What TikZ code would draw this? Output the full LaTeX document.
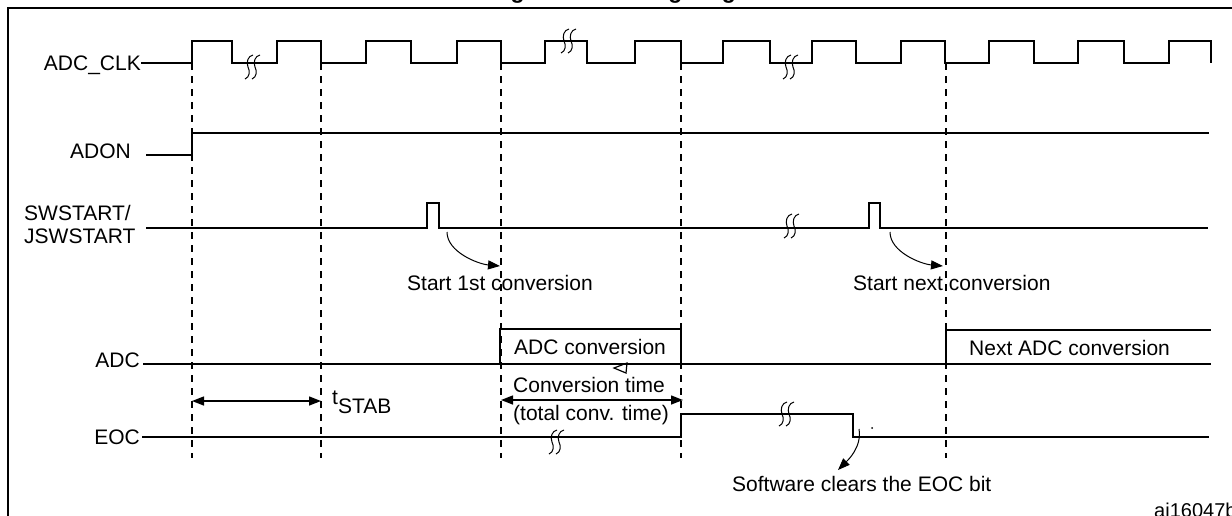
\documentclass[tikz,border=0pt]{standalone}
\usepackage{fontspec}
\setmainfont{Liberation Sans}
\usetikzlibrary{arrows.meta}
\newcommand{\sigfont}{\fontsize{21}{25}\selectfont}

\begin{document}
\begin{tikzpicture}[x=1pt,y=-1pt,>={Triangle[length=12pt,width=9pt]},
    sig/.style={black,line width=1.8pt},
    guide/.style={black,line width=1.4pt,dash pattern=on 7pt off 6pt},
    lbl/.style={font=\sigfont,inner sep=0pt,text height=15pt,text depth=0pt},
    brk/.style={black,line width=1pt}]
\useasboundingbox (0,0) rectangle (1232,515);
%Title, cut by the top of the picture
    \node[font=\bfseries\fontsize{23}{27}\selectfont,anchor=base west,inner sep=0pt] (title) at (490,-2) {Figure 39. Timing diagram};
    \draw[line width=1.4pt] (8,530) -- (8,8) -- (1245,8);

%Signal names
    \node[lbl,anchor=east] (clk) at (141,63) {ADC\_CLK};
    \node[lbl,anchor=east] (adon) at (131,151) {ADON};
    \node[lbl,anchor=west] (sw) at (24,213) {SWSTART/};
    \node[lbl,anchor=west] (jsw) at (24,236) {JSWSTART};
    \node[lbl,anchor=east] (adc) at (140,360) {ADC};
    \node[lbl,anchor=east] (eoc) at (140,437) {EOC};

%Clock, one rising and one falling edge per pair
    \draw[sig] (clk.east) foreach \r/\f in {192/232,277/321,366/411,457/501,545/587,635/681,723/770,812/856,901/945,989/1034,1078/1124,1169/1211}
        { -- (\r,63) -- (\r,41) -- (\f,41) -- (\f,63) };
    \draw[sig] (146,155) -- (192,155) -- (192,133) -- (1209,133);
    \draw[sig] (146,228) -- (427,228) -- (427,203) -- (439,203) -- (439,228)
        -- (869,228) -- (869,203) -- (880,203) -- (880,228) -- (1208,228);
    \draw[sig] (143,364) -- (1211,364);
    \draw[sig] (500,364) -- (500,329) -- (681,329) -- (681,364);
    \draw[sig] (946,364) -- (946,330) -- (1211,330);
    \draw[sig] (142,437) -- (681,437) -- (681,414) -- (853,414) -- (853,437) -- (1209,437);

%Dashed time marks
    \foreach \x in {192,321,501,681,946}
        \draw[guide] (\x,63) -- (\x,458);

%Breaks in the time axis
    \foreach \bx/\by in {252/67,568/41,790/67,791/226,556/442,786/414}
        \foreach \dx in {-3,4}
            \draw[brk] (\bx+\dx+4,\by-12) .. controls (\bx+\dx-1,\by-11) and (\bx+\dx-3,\by-5) .. (\bx+\dx-1,\by)
                .. controls (\bx+\dx+1,\by+4) and (\bx+\dx+1,\by+10) .. (\bx+\dx-4,\by+12);

%Durations
    \coordinate (stabL) at (192,401);
    \coordinate (stabR) at (321,401);
    \coordinate (convL) at (501,400);
    \coordinate (convR) at (683,400);
    \draw[<->,line width=1.4pt] (stabL) -- (stabR);
    \draw[<->,line width=1.4pt] (convL) -- (convR);
    \node[lbl,anchor=west] (stab) at (332,397) {t\raisebox{-9pt}{STAB}};
    \node[lbl,anchor=west] (ctime) at (513,385) {Conversion time};
    \node[lbl,anchor=west] (ttime) at (513,413) {(total conv. time)};
    \node[lbl,anchor=west] (conv) at (514,347) {ADC conversion};
    \node[lbl,anchor=west] (nconv) at (969,348) {Next ADC conversion};
    \draw[line width=1.2pt] (614,368) -- (627,363) -- (626,373) -- cycle;

%Events
    \coordinate (sw1) at (447,232);
    \coordinate (sw1e) at (500,266);
    \coordinate (sw2) at (890,232);
    \coordinate (sw2e) at (943,266);
    \coordinate (clr) at (859,429);
    \coordinate (clre) at (838,470);
    \draw[->,line width=1pt] (sw1) .. controls +(0,20) and +(-22,-2) .. (sw1e);
    \draw[->,line width=1pt] (sw2) .. controls +(0,20) and +(-22,-2) .. (sw2e);
    \draw[->,line width=1pt] (clr) .. controls +(3,18) and +(10,-10) .. (clre);
    \fill (872,428) circle (1pt);
    \node[lbl,anchor=west] (start1) at (407,283) {Start 1st conversion};
    \node[lbl,anchor=west] (startn) at (853,283) {Start next conversion};
    \node[lbl,anchor=west] (swclr) at (732,484) {Software clears the EOC bit};
    \node[font=\fontsize{20}{24}\selectfont,anchor=west,inner sep=0pt,text height=14pt,text depth=0pt] (ref) at (1154,510) {ai16047b};
\end{tikzpicture}
\end{document}
